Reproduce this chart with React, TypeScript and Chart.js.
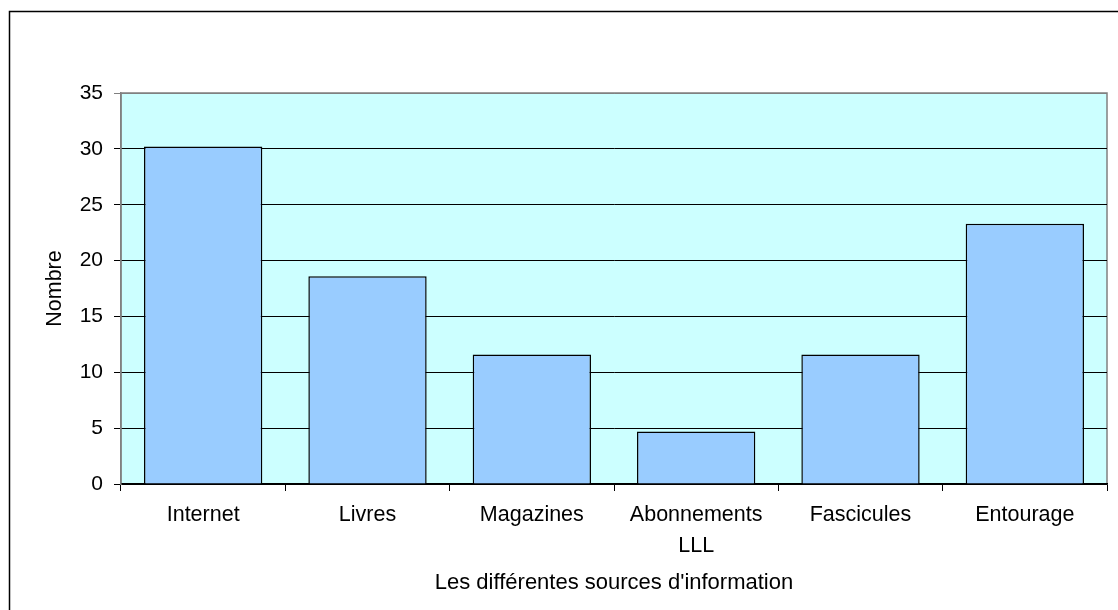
import React, { useEffect, useRef } from "react";
import { Chart, registerables } from "chart.js";

Chart.register(...registerables);

const categories: (string | string[])[] = [
  "Internet",
  "Livres",
  "Magazines",
  ["Abonnements", "LLL"],
  "Fascicules",
  "Entourage",
];
const values: number[] = [30.2, 18.6, 11.6, 4.7, 11.6, 23.3];
const yTitle = "Nombre";
const xTitle = "Les différentes sources d'information";

const frame = {
  id: "frame",
  beforeDraw(chart: any) {
    const { ctx, chartArea } = chart;
    ctx.save();
    ctx.fillStyle = "#ffffff";
    ctx.fillRect(0, 0, chart.width, chart.height);
    ctx.strokeStyle = "#000000";
    ctx.lineWidth = 1.5;
    ctx.beginPath();
    ctx.moveTo(9.5, chart.height + 2);
    ctx.lineTo(9.5, 11.5);
    ctx.lineTo(chart.width + 2, 11.5);
    ctx.stroke();
    ctx.fillStyle = "#CCFFFF";
    ctx.fillRect(chartArea.left, chartArea.top, chartArea.right - chartArea.left, chartArea.bottom - chartArea.top);
    ctx.strokeStyle = "#808080";
    ctx.lineWidth = 1.5;
    ctx.strokeRect(chartArea.left, chartArea.top, chartArea.right - chartArea.left, chartArea.bottom - chartArea.top);
    ctx.restore();
  },
};

export default function App() {
  const ref = useRef<HTMLCanvasElement | null>(null);
  useEffect(() => {
    if (!ref.current) return;
    Chart.defaults.font.family = "'Liberation Sans', Arial, sans-serif";
    Chart.defaults.color = "#000";
    const chart = new Chart(ref.current, {
      type: "bar",
      data: {
        labels: categories,
        datasets: [
          {
            data: values,
            backgroundColor: "#99CCFF",
            borderColor: "#000000",
            borderWidth: 1.5,
            barPercentage: 0.72,
            categoryPercentage: 1,
          },
        ],
      },
      options: {
        responsive: false,
        animation: false,
        layout: { padding: { left: 0, top: 93, right: 11, bottom: 0 } },
        plugins: { legend: { display: false }, tooltip: { enabled: false } },
        scales: {
          x: {
            afterFit: (s: any) => {
              s.height = 126;
            },
            grid: {
              drawOnChartArea: false,
              tickLength: 7,
              color: "#000",
              offset: true,
            },
            border: { color: "#000", width: 1.5 },
            ticks: {
              font: { size: 21.5, lineHeight: 1.45 },
              padding: 8,
              maxRotation: 0,
              autoSkip: false,
              color: "#000",
            },
            title: {
              display: true,
              text: xTitle,
              font: { size: 22 },
              padding: { top: 0, bottom: 14 },
              color: "#000",
            },
          },
          y: {
            min: 0,
            max: 35,
            afterFit: (s: any) => {
              s.width = 121;
            },
            grid: {
              tickLength: 7,
              color: (c: any) => (c.tick && c.tick.value === 35 ? "#808080" : "#000"),
              lineWidth: 1,
            },
            border: { color: "#808080", width: 1.5 },
            ticks: {
              stepSize: 5,
              font: { size: 21 },
              padding: 11,
              color: "#000",
            },
            title: {
              display: true,
              text: yTitle,
              font: { size: 21.5 },
              padding: { top: 42, bottom: 0 },
              color: "#000",
            },
          },
        },
      },
      plugins: [frame],
    });
    return () => chart.destroy();
  }, []);
  return (
    <div style={{ position: "fixed", left: 0, top: 0, width: 1118, height: 610 }}>
      <canvas ref={ref} width={1118} height={610} style={{ display: "block" }} />
    </div>
  );
}
